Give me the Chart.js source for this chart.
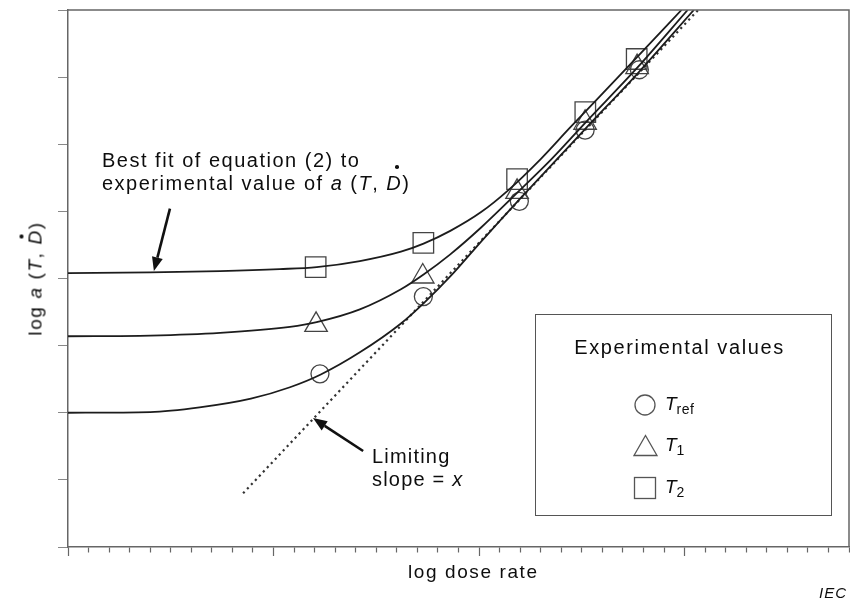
<!DOCTYPE html>
<html lang="en">
  <head>
    <meta charset="UTF-8" />
    <title>log a(T, D) vs log dose rate</title>
    <script src="https://cdn.jsdelivr.net/npm/chart.js"></script>
    <style>
      body { margin: 0; background: #fff; }
      #wrap { position: relative; width: 850px; height: 603px; font-family: "Liberation Sans", Arial, sans-serif; color: #0d0d0d; }
      #chart { position: absolute; left: 0; top: 0; }
      .txt { position: absolute; font-size: 19px; line-height: 23px; letter-spacing: 1.6px; white-space: nowrap; }
      .note { font-size: 20px; letter-spacing: 1.5px; }
      .dd { position: relative; }
      .dd::after { content: ""; position: absolute; width: 3.5px; height: 3.5px; border-radius: 50%; background: #111; left: 55%; }
      #note1 .dd::after { top: -7px; }
      #ytitle .dd::after { top: -5px; left: 40%; }
      #ytitle { left: -35px; top: 267px; width: 140px; text-align: center; transform: rotate(-90deg); }
      #legendBox { position: absolute; left: 535px; top: 314px; width: 295px; height: 200px; border: 1.5px solid #555; }
      .row { position: absolute; left: 97px; height: 24px; }
      .row svg { position: absolute; left: 0; top: 0; }
      .row span.lbl { position: absolute; left: 32px; top: -1px; font-size: 19px; line-height: 23px; }
      .row sub { font-size: 14px; vertical-align: -4px; font-style: normal; letter-spacing: 0.5px; }
    </style>
  </head>
  <body>
    <div id="wrap">
      <canvas id="chart" width="850" height="603"></canvas>

      <div class="txt note" id="note1" style="left: 102px; top: 149px">
        Best fit of equation (2) to<br />
        experimental value of <i>a</i> (<i>T</i>, <span class="dd"><i>D</i></span>)
      </div>
      <div class="txt note" style="left: 372px; top: 445px; letter-spacing: 1.2px">Limiting<br />slope = <i>x</i></div>
      <div class="txt" id="ytitle">log <i>a</i> (<i>T</i>, <span class="dd"><i>D</i></span>)</div>
      <div class="txt" style="left: 408px; top: 560px">log dose rate</div>
      <div class="txt" style="right: 3px; top: 584px; font-size: 15px; line-height: 17px; letter-spacing: 1px; font-style: italic">IEC</div>

      <div id="legendBox">
        <div class="txt" style="left: 0; width: 100%; text-align: center; top: 21px; font-size: 20px; margin-left: -4px">Experimental values</div>
        <div class="row" style="top: 78px">
          <svg width="24" height="24"><circle cx="12" cy="12" r="10" fill="none" stroke="#555" stroke-width="1.3" /></svg>
          <span class="lbl"><i>T</i><sub>ref</sub></span>
        </div>
        <div class="row" style="top: 119px">
          <svg width="26" height="24"><polygon points="12.5,1.5 24,21.5 1,21.5" fill="none" stroke="#555" stroke-width="1.3" /></svg>
          <span class="lbl"><i>T</i><sub>1</sub></span>
        </div>
        <div class="row" style="top: 161px">
          <svg width="24" height="24"><rect x="1.5" y="1.5" width="21" height="21" fill="none" stroke="#555" stroke-width="1.3" /></svg>
          <span class="lbl"><i>T</i><sub>2</sub></span>
        </div>
      </div>
    </div>

    <script>
      // fitted curves, x = log dose rate, y = log a
      const trefFitX = [0, 4.0, 6.4, 8.9, 10.8, 12.3, 14.2, 16.2, 17.3, 18.6, 20.1, 22.0, 25.2, 27.7, 30.45];
      const trefFitY = [2.0, 2.01, 2.08, 2.21, 2.38, 2.57, 2.9, 3.33, 3.63, 4.03, 4.55, 5.19, 6.24, 7.05, 8.0];

      const t1FitX = [0, 4.0, 7.4, 10.8, 12.1, 14.2, 16.2, 17.3, 18.6, 20.1, 22.0, 23.5, 25.2, 27.7, 30.15];
      const t1FitY = [3.14, 3.15, 3.19, 3.28, 3.35, 3.54, 3.84, 4.06, 4.36, 4.76, 5.32, 5.77, 6.33, 7.14, 8.0];

      const t2FitX = [0, 4.0, 7.4, 10.3, 12.1, 14.2, 16.2, 17.3, 18.6, 20.1, 21.4, 23.0, 24.4, 25.9, 27.7, 29.85];
      const t2FitY = [4.08, 4.09, 4.11, 4.14, 4.17, 4.26, 4.4, 4.52, 4.71, 4.99, 5.31, 5.78, 6.24, 6.72, 7.3, 8.0];

      // limiting slope (dotted)
      const limitX = [8.52, 30.66];
      const limitY = [0.8, 8.0];

      // experimental points
      const trefX = [12.26, 17.29, 21.96, 25.16, 27.8];
      const trefY = [2.58, 3.73, 5.15, 6.21, 7.11];
      const t1X = [12.07, 17.26, 21.85, 25.16, 27.69];
      const t1Y = [3.31, 4.03, 5.29, 6.32, 7.15];
      const t2X = [12.05, 17.29, 21.85, 25.17, 27.67];
      const t2Y = [4.17, 4.53, 5.48, 6.48, 7.27];

      // annotation arrows [fromX, fromY, toX, toY] in data units
      const arrows = [
        [4.96, 5.04, 4.18, 4.11],
        [14.36, 1.43, 11.92, 1.92],
      ];

      const pts = (xs, ys) => xs.map((x, i) => ({ x, y: ys[i] }));

      function curve(xs, ys) {
        return {
          data: pts(xs, ys),
          showLine: true,
          borderColor: "#1c1c1c",
          borderWidth: 1.8,
          pointRadius: 0,
          cubicInterpolationMode: "monotone",
        };
      }

      function markers(xs, ys, style, r) {
        return {
          data: pts(xs, ys),
          showLine: false,
          pointStyle: style,
          pointRadius: r,
          borderColor: "#444",
          borderWidth: 1.3,
          backgroundColor: "rgba(0,0,0,0)",
        };
      }

      const framePlugin = {
        id: "frame",
        afterDraw(chart) {
          const { ctx, chartArea: a, scales } = chart;
          ctx.save();
          ctx.strokeStyle = "#666";
          ctx.lineWidth = 1.5;
          ctx.beginPath();
          ctx.moveTo(a.left, a.top);
          ctx.lineTo(a.right, a.top);
          ctx.lineTo(a.right, a.bottom);
          ctx.stroke();

          // arrows
          ctx.strokeStyle = "#111";
          ctx.fillStyle = "#111";
          ctx.lineWidth = 2.6;
          for (const [fx, fy, tx, ty] of arrows) {
            const x1 = scales.x.getPixelForValue(fx), y1 = scales.y.getPixelForValue(fy);
            const x2 = scales.x.getPixelForValue(tx), y2 = scales.y.getPixelForValue(ty);
            const ang = Math.atan2(y2 - y1, x2 - x1);
            const len = 14, half = 5.5;
            const bx = x2 - len * Math.cos(ang), by = y2 - len * Math.sin(ang);
            ctx.beginPath();
            ctx.moveTo(x1, y1);
            ctx.lineTo(bx, by);
            ctx.stroke();
            ctx.beginPath();
            ctx.moveTo(x2, y2);
            ctx.lineTo(bx + half * Math.sin(ang), by - half * Math.cos(ang));
            ctx.lineTo(bx - half * Math.sin(ang), by + half * Math.cos(ang));
            ctx.closePath();
            ctx.fill();
          }
          ctx.restore();
        },
      };

      new Chart(document.getElementById("chart"), {
        type: "scatter",
        data: {
          datasets: [
            curve(trefFitX, trefFitY),
            curve(t1FitX, t1FitY),
            curve(t2FitX, t2FitY),
            {
              data: pts(limitX, limitY),
              showLine: true,
              borderColor: "#333",
              borderWidth: 2.2,
              borderDash: [2.2, 3.6],
              pointRadius: 0,
            },
            markers(trefX, trefY, "circle", 9),
            markers(t1X, t1Y, "triangle", 13),
            markers(t2X, t2Y, "rect", 14.5),
          ],
        },
        options: {
          responsive: false,
          animation: false,
          events: [],
          layout: { autoPadding: false, padding: { left: 58, right: 1, top: 10, bottom: 47 } },
          plugins: { legend: { display: false }, tooltip: { enabled: false } },
          scales: {
            x: {
              type: "linear",
              min: 0,
              max: 38,
              ticks: { display: false, stepSize: 1, autoSkip: false },
              border: { color: "#666", width: 1.5 },
              grid: {
                drawOnChartArea: false,
                tickLength: 9,
                tickColor: "#666",
                tickWidth: 1.2,
                tickBorderDash: (ctx) => (ctx.tick && ctx.tick.value % 10 === 0 ? [] : [5, 20]),
              },
            },
            y: {
              type: "linear",
              min: 0,
              max: 8,
              ticks: { display: false, stepSize: 1 },
              border: { color: "#666", width: 1.5 },
              grid: { drawOnChartArea: false, tickLength: 10, tickColor: "#888", tickWidth: 1 },
            },
          },
        },
        plugins: [framePlugin],
      });
    </script>
  </body>
</html>
